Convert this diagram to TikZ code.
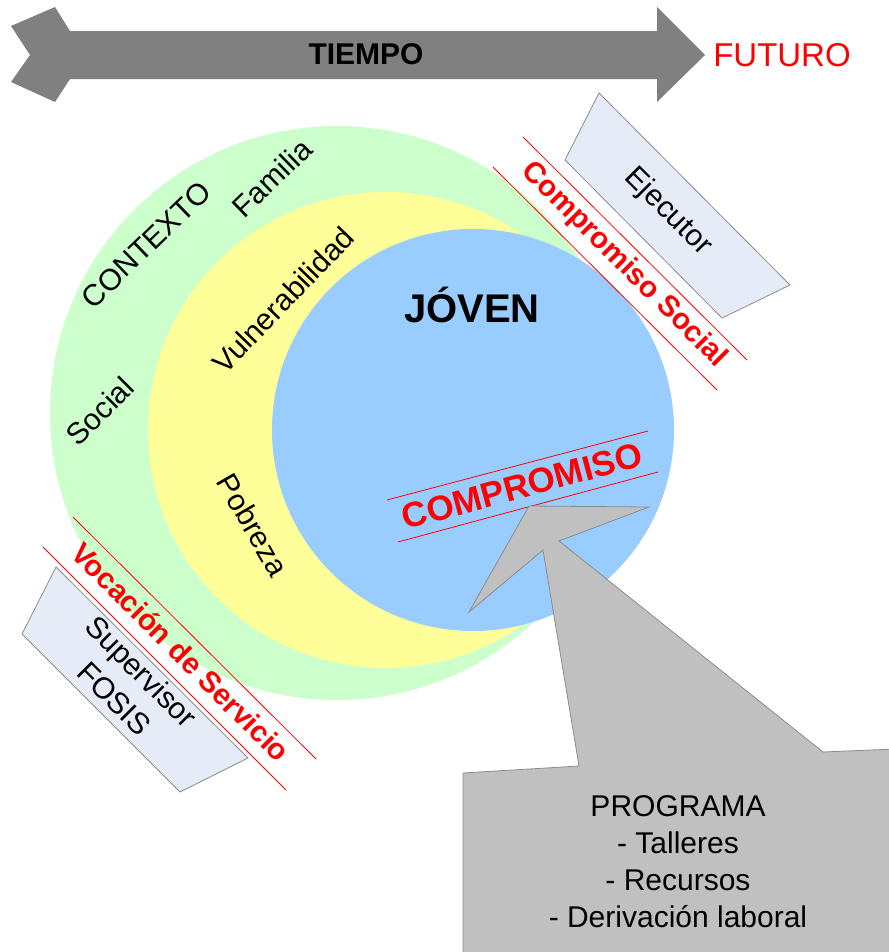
\documentclass[tikz,border=0pt]{standalone}
\usepackage{fontspec}
\setmainfont{Liberation Sans}
\definecolor{cgreen}{HTML}{CCFFCC}
\definecolor{cyellow}{HTML}{FFFF99}
\definecolor{cblue}{HTML}{99CCFF}
\definecolor{arrowgray}{HTML}{808080}
\definecolor{callgray}{HTML}{C0C0C0}
\definecolor{boxblue}{HTML}{E6ECF7}
\definecolor{edgegray}{HTML}{8C8C8C}
\definecolor{futred}{HTML}{FF0000}
\begin{document}
\begin{tikzpicture}[x=1bp,y=-1bp,
  lbl/.style={inner sep=0pt, align=center, font=\fontsize{30bp}{38bp}\selectfont},
  redlbl/.style={inner sep=0pt, text=futred, font=\bfseries\fontsize{29.5bp}{34bp}\selectfont},
  redline/.style={draw=futred, line width=0.8bp},
  tagbox/.style={fill=boxblue, draw=edgegray, line width=0.8bp}
]
\useasboundingbox (0,0) rectangle (889,952);
\fill[white] (0,0) rectangle (889,952);

% time arrow
\fill[arrowgray] (11,26) -- (55,7) -- (70,31) -- (657,31) -- (657,7) -- (705,55)
  -- (657,102) -- (657,79) -- (70,79) -- (55,102) -- (11,82) -- (30,55) -- cycle;
\node[inner sep=0pt, font=\bfseries\fontsize{30bp}{34bp}\selectfont] (tiempo) at (366,54) {TIEMPO};
\node[inner sep=0pt, text=futred, font=\fontsize{33bp}{38bp}\selectfont] (futuro) at (782,55) {FUTURO};

% circles
\fill[cgreen] (337,413) circle (287bp);
\fill[cyellow] (386,430) circle (238bp);
\fill[cblue] (473,430) circle (201bp);

% circle labels
\node[lbl, rotate=44] (contexto) at (146,245) {CONTEXTO};
\node[lbl, rotate=44] (familia) at (272,178) {Familia};
\node[lbl, rotate=45] (social) at (100,411) {Social};
\node[lbl, rotate=46] (vulner) at (283,300) {Vulnerabilidad};
\node[lbl, rotate=-60] (pobreza) at (253,525) {Pobreza};
\node[inner sep=0pt, font=\bfseries\fontsize{40bp}{44bp}\selectfont] (joven) at (472,305) {JÓVEN};

% Ejecutor tag
\draw[tagbox] (599,93) -- (790,285) -- (722,318) -- (565,160) -- cycle;
\node[lbl, rotate=-45] (ejecutor) at (668,212) {Ejecutor};

% Compromiso Social
\coordinate (cs1a) at (523,137); \coordinate (cs1b) at (747,360);
\coordinate (cs2a) at (493,167); \coordinate (cs2b) at (717,390);
\draw[redline] (cs1a) -- (cs1b);
\draw[redline] (cs2a) -- (cs2b);
\node[redlbl, rotate=-45] (compsoc) at (624,265) {Compromiso Social};

% Supervisor tag
\draw[tagbox] (56,567) -- (248,758) -- (180,792) -- (22,634) -- cycle;
\node[lbl, rotate=-45] (superv) at (128,685) {Supervisor\\FOSIS};

% Vocacion de Servicio
\coordinate (vs1a) at (73,517); \coordinate (vs1b) at (316,759);
\coordinate (vs2a) at (43,547); \coordinate (vs2b) at (286,790);
\draw[redline] (vs1a) -- (vs1b);
\draw[redline] (vs2a) -- (vs2b);
\node[redlbl, rotate=-45] (vocacion) at (181,652) {Vocación de Servicio};

% COMPROMISO
\coordinate (cp1a) at (387,500); \coordinate (cp1b) at (648,431);
\coordinate (cp2a) at (398,542); \coordinate (cp2b) at (658,472);
\draw[redline] (cp1a) -- (cp1b);
\draw[redline] (cp2a) -- (cp2b);
\node[inner sep=0pt, text=futred, font=\bfseries\fontsize{35bp}{40bp}\selectfont, rotate=15] (compromiso) at (522,486) {COMPROMISO};

% PROGRAMA callout
\draw[fill=callgray, draw=edgegray, line width=0.8bp]
  (463,960) -- (463,773) -- (579,766) -- (543,550) -- (469,612) -- (529,506)
  -- (649,507) -- (559,541) -- (823,752) -- (895,749) -- (895,960) -- cycle;
\node[inner sep=0pt, align=center, font=\fontsize{30bp}{37bp}\selectfont, anchor=north] (programa) at (678,795)
  {PROGRAMA\\- Talleres\\- Recursos\\- Derivación laboral};
\end{tikzpicture}
\end{document}
